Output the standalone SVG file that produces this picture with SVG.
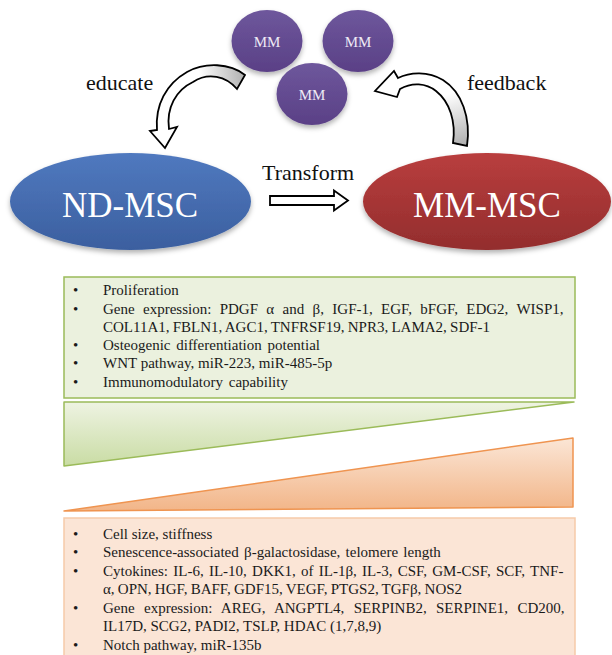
<svg xmlns="http://www.w3.org/2000/svg" width="612" height="655" viewBox="0 0 612 655">
  <style>
    .label { font-size: 22px; fill: #111; }
    .cell { font-size: 35px; fill: #ffffff; text-anchor: middle; }
    .mm { font-size: 15px; fill: #eeeaf5; text-anchor: middle; }
    .item { font-size: 15px; fill: #1a1a1a; }
    .outline { stroke: #000; stroke-width: 1.8; stroke-linejoin: miter; }
  </style>
  <defs>
    <linearGradient id="gBlue" x1="0" y1="0" x2="0" y2="1">
      <stop offset="0" stop-color="#5079bf"/>
      <stop offset="1" stop-color="#3b5f9f"/>
    </linearGradient>
    <linearGradient id="gRed" x1="0" y1="0" x2="0" y2="1">
      <stop offset="0" stop-color="#b93e3e"/>
      <stop offset="1" stop-color="#932d2d"/>
    </linearGradient>
    <linearGradient id="gPurple" x1="0" y1="0" x2="0" y2="1">
      <stop offset="0" stop-color="#6e579c"/>
      <stop offset="1" stop-color="#5a4086"/>
    </linearGradient>
    <linearGradient id="gGreenWedge" x1="0" y1="0" x2="0" y2="1">
      <stop offset="0" stop-color="#eef3e2"/>
      <stop offset="1" stop-color="#c9dca4"/>
    </linearGradient>
    <linearGradient id="gOrangeWedge" x1="0" y1="0" x2="0" y2="1">
      <stop offset="0" stop-color="#fbe6d6"/>
      <stop offset="1" stop-color="#f2b588"/>
    </linearGradient>
    <linearGradient id="gEducate" gradientUnits="userSpaceOnUse" x1="245" y1="80" x2="200" y2="85">
      <stop offset="0" stop-color="#b0b0b0"/>
      <stop offset="1" stop-color="#ffffff"/>
    </linearGradient>
    <linearGradient id="gFeedback" gradientUnits="userSpaceOnUse" x1="460" y1="146" x2="445" y2="95">
      <stop offset="0" stop-color="#b0b0b0"/>
      <stop offset="1" stop-color="#ffffff"/>
    </linearGradient>
    <filter id="shadow" x="-10%" y="-10%" width="120%" height="130%">
      <feDropShadow dx="0" dy="3" stdDeviation="2.5" flood-color="#000" flood-opacity="0.3"/>
    </filter>
  </defs>

  <rect width="612" height="655" fill="#ffffff"/>

  <!-- myeloma cells -->
  <g id="mm1">
    <ellipse cx="267" cy="41" rx="35.5" ry="31" fill="url(#gPurple)" filter="url(#shadow)"/>
    <text class="mm" font-family="Liberation Serif" x="267" y="47">MM</text>
  </g>
  <g id="mm2">
    <ellipse cx="358" cy="41" rx="35.5" ry="31" fill="url(#gPurple)" filter="url(#shadow)"/>
    <text class="mm" font-family="Liberation Serif" x="358" y="47">MM</text>
  </g>
  <g id="mm3">
    <ellipse cx="312" cy="94" rx="35.5" ry="31" fill="url(#gPurple)" filter="url(#shadow)"/>
    <text class="mm" font-family="Liberation Serif" x="312" y="100">MM</text>
  </g>

  <!-- stromal cell populations -->
  <g id="nd-msc">
    <ellipse cx="130.5" cy="201.5" rx="120.5" ry="48.5" fill="url(#gBlue)" filter="url(#shadow)"/>
    <text class="cell" font-family="Liberation Serif" x="130" y="217">ND-MSC</text>
  </g>
  <g id="mm-msc">
    <ellipse cx="487" cy="201.5" rx="124" ry="48.5" fill="url(#gRed)" filter="url(#shadow)"/>
    <text class="cell" font-family="Liberation Serif" x="487" y="217">MM-MSC</text>
  </g>

  <!-- connectors -->
  <g id="connectors">
    <path id="educate-arrow" class="outline" fill="url(#gEducate)"
          d="M245,75 C230,63 205,62 187,72 C166,84 155,105 157,130 L150,131 L165,148 L177,127 L169,129 C166,108 176,90 193,82 C208,72 226,76 237,89 Z"/>
    <text class="label" font-family="Liberation Serif" x="86" y="90">educate</text>

    <path id="feedback-arrow" class="outline" fill="url(#gFeedback)"
          d="M467,146 C471,118 462,92 443,80 C428,71 410,72 398,78 L394,71 L375,91 L397,97 L400,89 C412,82 426,83 436,91 C450,102 456,122 453,143 Z"/>
    <text class="label" font-family="Liberation Serif" x="467" y="90">feedback</text>

    <path id="transform-arrow" class="outline" fill="#ffffff" stroke-width="1.6"
          d="M270,196 H334 V190.5 L348,200.5 L334,210.5 V205 H270 Z"/>
    <text class="label" font-family="Liberation Serif" x="262" y="180">Transform</text>
  </g>

  <!-- features reduced in MM-MSC -->
  <g id="box-decreased">
    <rect x="64" y="277" width="511" height="121" fill="#ebf1de" stroke="#9bbb59" stroke-width="1.5"/>
    <text class="item" font-family="Liberation Serif" x="73" y="295">•</text>
    <text class="item" font-family="Liberation Serif" x="103" y="295">Proliferation</text>
    <text class="item" font-family="Liberation Serif" x="73" y="314">•</text>
    <text class="item" font-family="Liberation Serif" x="103" y="314" word-spacing="4.6">Gene expression: PDGF α and β, IGF-1, EGF, bFGF, EDG2, WISP1,</text>
    <text class="item" font-family="Liberation Serif" x="103" y="332" word-spacing="-0.5">COL11A1, FBLN1, AGC1, TNFRSF19, NPR3, LAMA2, SDF-1</text>
    <text class="item" font-family="Liberation Serif" x="73" y="350">•</text>
    <text class="item" font-family="Liberation Serif" x="103" y="350" word-spacing="2">Osteogenic differentiation potential</text>
    <text class="item" font-family="Liberation Serif" x="73" y="368">•</text>
    <text class="item" font-family="Liberation Serif" x="103" y="368">WNT pathway, miR-223, miR-485-5p</text>
    <text class="item" font-family="Liberation Serif" x="73" y="387">•</text>
    <text class="item" font-family="Liberation Serif" x="103" y="387" word-spacing="2">Immunomodulatory capability</text>
  </g>

  <g id="wedge-decreasing">
    <polygon points="64,402 574,402 64,466" fill="url(#gGreenWedge)" stroke="#9bbb59" stroke-width="1.5" stroke-linejoin="round"/>
  </g>

  <g id="wedge-increasing">
    <polygon points="573,438 573,507 64,511" fill="url(#gOrangeWedge)" stroke="#ef9450" stroke-width="1.5" stroke-linejoin="round"/>
  </g>

  <!-- features increased in MM-MSC -->
  <g id="box-increased">
    <rect x="64" y="518" width="511" height="145" fill="#fbe5d6" stroke="#f6caa9" stroke-width="1.5"/>
    <text class="item" font-family="Liberation Serif" x="73" y="539">•</text>
    <text class="item" font-family="Liberation Serif" x="103" y="539">Cell size, stiffness</text>
    <text class="item" font-family="Liberation Serif" x="73" y="557">•</text>
    <text class="item" font-family="Liberation Serif" x="103" y="557" word-spacing="1.5">Senescence-associated β-galactosidase, telomere length</text>
    <text class="item" font-family="Liberation Serif" x="73" y="576">•</text>
    <text class="item" font-family="Liberation Serif" x="103" y="576" word-spacing="1.5">Cytokines: IL-6, IL-10, DKK1, of IL-1β, IL-3, CSF, GM-CSF, SCF, TNF-</text>
    <text class="item" font-family="Liberation Serif" x="103" y="594" word-spacing="-0.5">α, OPN, HGF, BAFF, GDF15, VEGF, PTGS2, TGFβ, NOS2</text>
    <text class="item" font-family="Liberation Serif" x="73" y="613">•</text>
    <text class="item" font-family="Liberation Serif" x="103" y="613" word-spacing="5.6">Gene expression: AREG, ANGPTL4, SERPINB2, SERPINE1, CD200,</text>
    <text class="item" font-family="Liberation Serif" x="103" y="631">IL17D, SCG2, PADI2, TSLP, HDAC (1,7,8,9)</text>
    <text class="item" font-family="Liberation Serif" x="73" y="650">•</text>
    <text class="item" font-family="Liberation Serif" x="103" y="650">Notch pathway, miR-135b</text>
  </g>
</svg>
